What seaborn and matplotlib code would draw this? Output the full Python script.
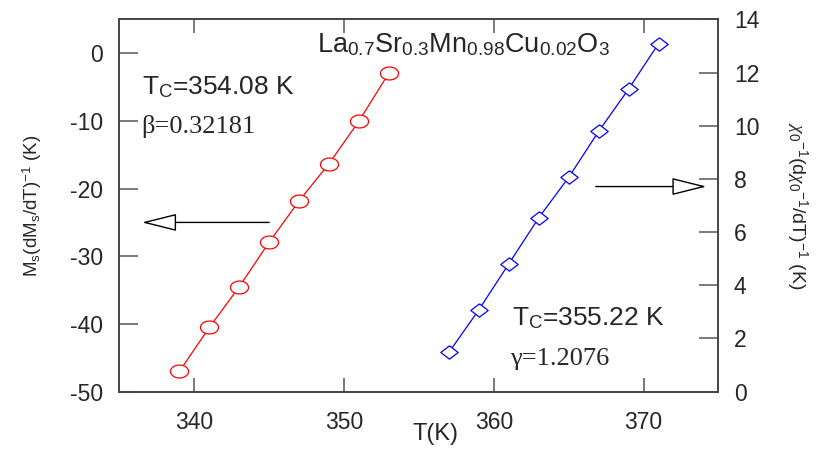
import numpy as np
import matplotlib
matplotlib.use('Agg')
import matplotlib.pyplot as plt
from matplotlib.path import Path
import seaborn as sns

# data
T_ms = [339, 341, 343, 345, 347, 349, 351, 353]
ms_vals = [-47.0, -40.5, -34.5, -27.9, -21.8, -16.3, -10.0, -2.9]
T_chi = [357, 359, 361, 363, 365, 367, 369, 371]
chi_vals = [1.48, 3.08, 4.81, 6.54, 8.06, 9.79, 11.38, 13.09]

x_ticks = [340, 350, 360, 370]
left_ticks = [-50, -40, -30, -20, -10, 0]
right_ticks = [0, 2, 4, 6, 8, 10, 12, 14]

sns.set_style('white')
plt.rcParams['font.family'] = ['Liberation Sans', 'DejaVu Sans']
plt.rcParams['axes.unicode_minus'] = False
plt.rcParams['mathtext.fontset'] = 'custom'
plt.rcParams['mathtext.rm'] = 'Liberation Sans'
plt.rcParams['mathtext.it'] = 'Liberation Serif:italic'
plt.rcParams['mathtext.bf'] = 'Liberation Sans:bold'

# squashed marker shapes (wider than tall, as in the original)
th = np.linspace(0, 2 * np.pi, 73)
ellipse = Path(np.column_stack([1.4 * np.cos(th), np.sin(th)]))
diamond = Path([(0, 1), (1.3, 0), (0, -1), (-1.3, 0), (0, 1)])

fig = plt.figure(figsize=(8.23, 4.62), dpi=100)
ax = fig.add_axes([0.1452, 0.1522, 0.7278, 0.806])
ax2 = ax.twinx()

sns.lineplot(x=T_ms, y=ms_vals, ax=ax, color='red', lw=0.9,
             marker=ellipse, markersize=13, markerfacecolor='white',
             markeredgecolor='red', markeredgewidth=0.9)
sns.lineplot(x=T_chi, y=chi_vals, ax=ax2, color='blue', lw=0.9,
             marker=diamond, markersize=12.5, markerfacecolor='white',
             markeredgecolor='blue', markeredgewidth=0.9)

ax.set_xlim(335, 375)
ax.set_ylim(-50, 5)
ax2.set_ylim(0, 14)
ax.set_xticks(x_ticks)
ax.set_yticks(left_ticks)
ax2.set_yticks(right_ticks)

for a in (ax, ax2):
    for sp in a.spines.values():
        sp.set_color('#444444')
        sp.set_linewidth(1.2)

ax.tick_params(axis='x', direction='in', length=10, width=1.1, color='#555555',
               top=True, bottom=True, labelsize=16.5, pad=14)
ax.tick_params(axis='y', direction='in', length=13.5, width=1.1, color='#555555',
               left=True, right=False, labelsize=16.5, pad=12)
ax2.tick_params(axis='y', direction='in', length=13.5, width=1.1, color='#555555',
                right=True, left=False, labelsize=16.5, pad=11)

ax.set_xlabel('T(K)', fontsize=17)
ax.xaxis.set_label_coords(0.527, -0.085)
ax.set_ylabel(r'M$_\mathrm{s}$(dM$_\mathrm{s}$/dT)$^\mathrm{-1}$ (K)', fontsize=13.5, va='center')
ax.yaxis.set_label_coords(-0.146, 0.5)
ax2.set_ylabel(r'$\chi_0$$^\mathrm{-1}$(d$\chi_0$$^\mathrm{-1}$/dT)$^\mathrm{-1}$ (K)',
               fontsize=14, rotation=-90, va='center')
ax2.yaxis.set_label_coords(1.131, 0.5)

ax.text(0.575, 0.912,
        r'La$_\mathrm{0.7}$Sr$_\mathrm{0.3}$Mn$_\mathrm{0.98}$Cu$_\mathrm{0.02}$O$_\mathrm{3}$',
        transform=ax.transAxes, ha='center', va='baseline', fontsize=19.5)
ax.text(0.037, 0.799, r'T$_\mathrm{C}$=354.08 K', transform=ax.transAxes,
        ha='left', va='baseline', fontsize=19)
ax.text(0.037, 0.695, 'β=0.32181', transform=ax.transAxes, ha='left',
        va='baseline', fontsize=19, family=['Liberation Serif', 'DejaVu Serif'])
ax.text(0.655, 0.177, r'T$_\mathrm{C}$=355.22 K', transform=ax.transAxes,
        ha='left', va='baseline', fontsize=19)
ax.text(0.652, 0.072, 'γ=1.2076', transform=ax.transAxes, ha='left',
        va='baseline', fontsize=19, family=['Liberation Serif', 'DejaVu Serif'])

arrow = dict(arrowstyle='-|>,head_length=2.2,head_width=0.55', fc='white',
             ec='black', lw=1.0, shrinkA=0, shrinkB=0, mutation_scale=10)
ax.annotate('', xy=(336.5, -25.0), xytext=(345.0, -25.0), arrowprops=arrow)
ax.annotate('', xy=(374.2, -19.7), xytext=(366.8, -19.7), arrowprops=arrow)

fig.savefig('out.png', dpi=100)
plt.close(fig)
